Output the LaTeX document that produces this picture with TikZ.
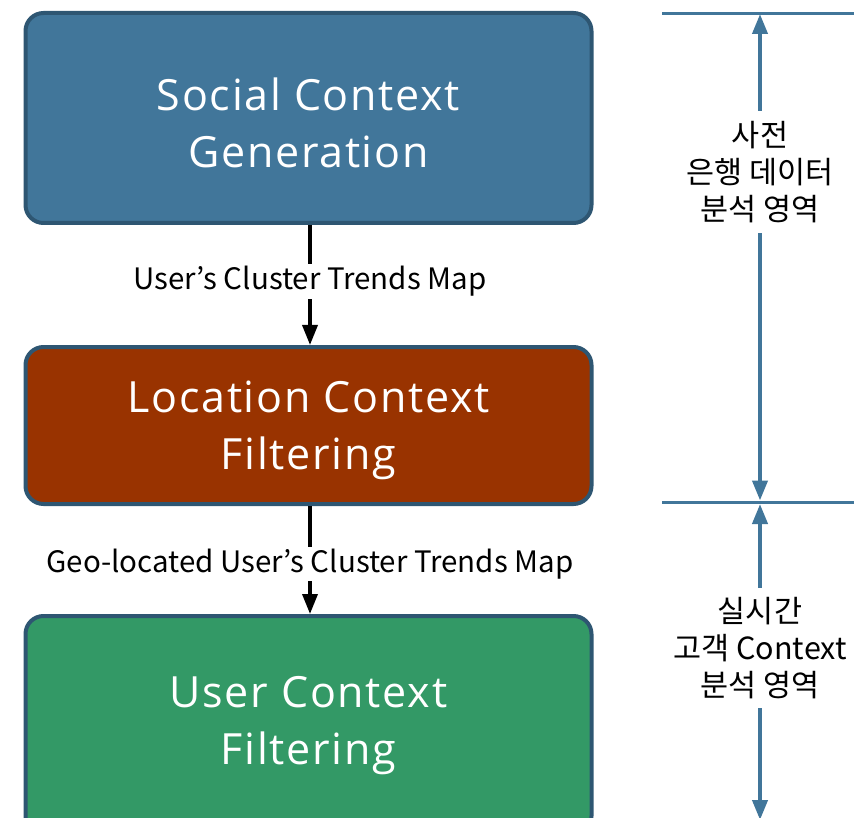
\documentclass[tikz,border=0pt]{standalone}
\usepackage{fontspec}
\setmainfont{Open Sans}
\newfontfamily\krfont{Noto Sans CJK KR}
\newfontfamily\stagefont{Open Sans}[LetterSpace=4]
\usetikzlibrary{arrows.meta}
\definecolor{boxedge}{HTML}{2E5672}
\definecolor{socialfill}{HTML}{41769A}
\definecolor{locfill}{HTML}{993300}
\definecolor{userfill}{HTML}{339966}
\definecolor{spanline}{HTML}{41769A}
\tikzset{
  stage/.style={draw=boxedge, line width=4pt, rounded corners=18pt,
    minimum width=566pt},
  stagetext/.style={text=white, align=center, yshift=-5pt,
    font=\stagefont\fontsize{43}{57}\selectfont},
  flow/.style={line width=3.5pt, -{Triangle[length=20pt,width=15pt]}},
  flowlabel/.style={fill=white, inner sep=2pt, font=\krfont\fontsize{29.5}{32}\selectfont},
  spanrule/.style={draw=spanline, line width=3pt},
  spanarrow/.style={spanline, line width=4pt, -{Triangle[length=20pt,width=15pt]}},
  spantext/.style={align=center, inner sep=0pt, font=\krfont\fontsize{30.5}{37}\selectfont}
}
\begin{document}
\begin{tikzpicture}[x=1pt,y=-1pt]
\useasboundingbox (0,0) rectangle (854,818);
\clip (0,0) rectangle (854,818);

% processing stages
\node[stage, fill=socialfill, minimum height=210pt,
  label={[stagetext]center:{Social Context\\Generation}}] (social) at (308.5,118) {};
\node[stage, fill=locfill, minimum height=157pt,
  label={[stagetext]center:{Location Context\\Filtering}}] (location) at (308.5,425.5) {};
\node[stage, fill=userfill, minimum height=218pt,
  label={[stagetext, yshift=4pt]center:{User Context\\Filtering}}] (user) at (308.5,725) {};

% data handed between stages
\draw[flow] (social.south -| 310,0) -- node[flowlabel, pos=0.47] (lab1) {User’s Cluster Trends Map} (location.north -| 310,0);
\draw[flow] (location.south -| 310,0) -- node[flowlabel, pos=0.54] (lab2) {Geo-located User’s Cluster Trends Map} (user.north -| 310,0);

% span markers on the right
\coordinate (topL) at (662,14);
\coordinate (topR) at (854,14);
\coordinate (midL) at (662,502);
\coordinate (midR) at (854,502);
\draw[spanrule] (topL) -- (topR);
\draw[spanrule] (midL) -- (midR);

\node[spantext, minimum height=122pt] (pre) at (760,172) {사전\\은행 데이터\\분석 영역};
\node[spantext, minimum height=120pt] (live) at (760,648) {실시간\\고객 Context\\분석 영역};

\coordinate (topHit) at (760,14);
\coordinate (midHitA) at (760,500.5);
\coordinate (midHitB) at (760,504);
\coordinate (bottomHit) at (760,820);
\draw[spanarrow] (pre.north) -- (topHit);
\draw[spanarrow] (pre.south) -- (midHitA);
\draw[spanarrow] (live.north) -- (midHitB);
\draw[spanarrow] (live.south) -- (bottomHit);
\end{tikzpicture}
\end{document}
